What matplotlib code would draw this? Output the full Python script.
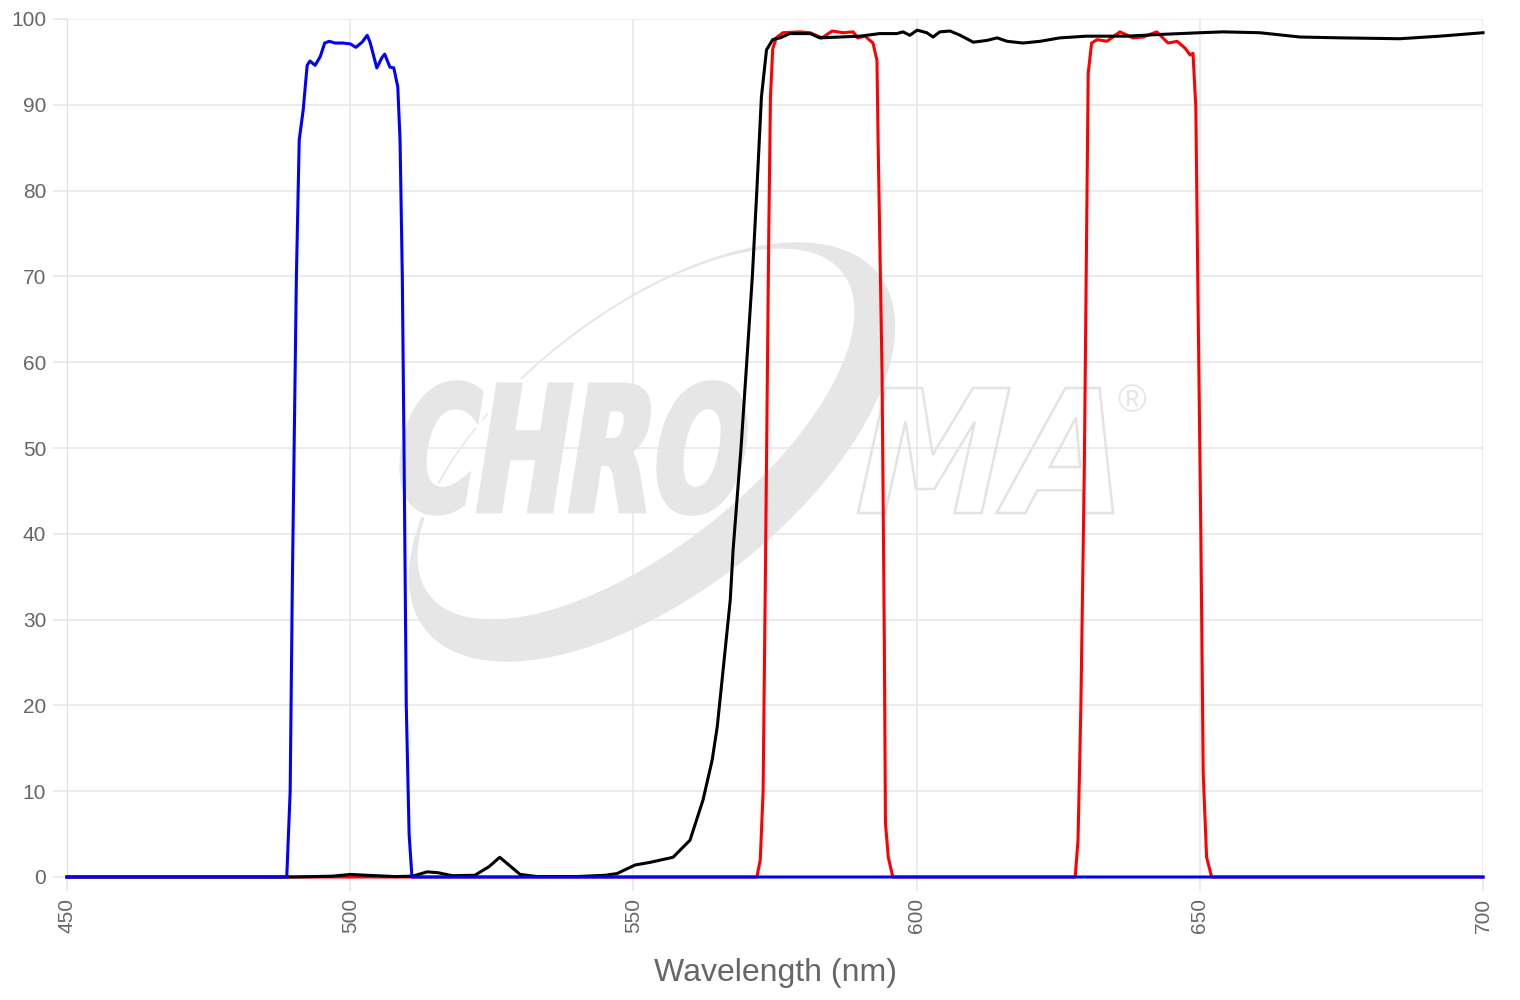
import numpy as np
import matplotlib
matplotlib.use("Agg")
import matplotlib.pyplot as plt
from matplotlib.textpath import TextPath
from matplotlib.patches import PathPatch
from matplotlib.path import Path
from matplotlib.font_manager import FontProperties
from matplotlib.transforms import Affine2D, IdentityTransform

# transmission curves
blue_x = [450, 488.8, 489.4, 489.8, 490.1, 490.5, 491.0, 491.7, 492.4, 492.9,
          493.8, 494.7, 495.5, 496.3, 497.3, 498.7, 500.0, 501.0, 502.1, 503.0,
          503.5, 504.7, 505.6, 506.1, 507.0, 507.7, 508.4, 508.8, 509.2, 509.5,
          509.9, 510.4, 510.9, 700]
blue_y = [0, 0, 10, 35, 50, 70, 85.9, 89.4, 94.6, 95.1,
          94.6, 95.6, 97.2, 97.4, 97.2, 97.2, 97.1, 96.7, 97.3, 98.1,
          97.3, 94.3, 95.5, 95.9, 94.4, 94.3, 92.1, 85.9, 70, 50,
          20, 5, 0, 0]

black_x = [450, 490, 497, 500, 503, 508, 511, 513.6, 515.5, 518,
           522, 524.5, 526.4, 528.2, 530, 533, 540, 545, 547.1, 550.3,
           552.9, 557.0, 560.0, 562.3, 563.9, 564.8, 565.6, 566.5, 567.1, 567.6,
           569.0, 570.0, 571.0, 571.8, 572.6, 573.5, 574.6, 575.9, 577.6, 581.2,
           582.9, 586.5, 590.0, 593.5, 596.5, 597.6, 598.8, 600.1, 601.8, 602.9,
           604.1, 605.9, 607.7, 610.0, 612.4, 614.2, 616.0, 618.8, 621.8, 625.3,
           630, 637.1, 643, 650.0, 654.1, 660.6, 667.7, 675, 685.3, 692.4,
           700]
black_y = [0, 0, 0.1, 0.3, 0.2, 0.05, 0.1, 0.6, 0.5, 0.15,
           0.2, 1.2, 2.3, 1.3, 0.3, 0.05, 0.05, 0.2, 0.4, 1.4,
           1.7, 2.3, 4.3, 9.0, 13.6, 17.5, 22.6, 28.4, 32.3, 38.1,
           50, 59.9, 70, 80.1, 90.9, 96.4, 97.6, 97.8, 98.3, 98.3,
           97.8, 97.9, 98.0, 98.3, 98.3, 98.5, 98.1, 98.7, 98.4, 97.9,
           98.5, 98.6, 98.1, 97.3, 97.5, 97.8, 97.4, 97.2, 97.4, 97.8,
           98.0, 98.0, 98.2, 98.4, 98.5, 98.4, 97.9, 97.8, 97.7, 98.0,
           98.4]

red_x = [450, 571.8, 572.4, 572.9, 573.3, 573.6, 573.9, 574.2, 574.6, 575.2,
         576.4, 579.4, 581.2, 583.3, 585.1, 587.0, 588.8, 589.6, 590.9, 592.3,
         593.0, 593.2, 593.9, 594.3, 594.5, 595.0, 595.8, 628.0, 628.5, 629.0,
         629.6, 630.0, 630.3, 630.9, 631.9, 633.6, 635.9, 638.2, 640.0, 642.4,
         644.4, 646.0, 647.4, 648.3, 648.8, 649.3, 649.7, 650.2, 650.6, 651.2,
         652.1, 700]
red_y = [0, 0, 2, 10, 35, 55, 75, 91, 96.5, 97.8,
         98.4, 98.5, 98.4, 97.8, 98.6, 98.4, 98.5, 97.8, 98.0, 97.2,
         95.2, 85.9, 58.7, 27.6, 6.3, 2.3, 0, 0, 4.3, 19.8,
         47, 74, 93.7, 97.2, 97.6, 97.4, 98.5, 97.8, 97.9, 98.5,
         97.2, 97.4, 96.6, 95.8, 96.0, 89.7, 66.4, 39.3, 12.1, 2.3,
         0, 0]

x_ticks = [450, 500, 550, 600, 650, 700]
y_ticks = [0, 10, 20, 30, 40, 50, 60, 70, 80, 90, 100]

plt.rcParams["font.family"] = ["Liberation Sans", "DejaVu Sans"]

fig = plt.figure(figsize=(15.2, 10), dpi=100)
ax = fig.add_axes([67 / 1520, 123 / 1000, 1416 / 1520, 858 / 1000])
ax.set_facecolor("none")

# watermark, in pixel coordinates (y up)
wm = "#e6e6e6"


def ellipse_pts(cx, cy, a, b, ang, n=200):
    t = np.linspace(0, 2 * np.pi, n)
    c, s = np.cos(np.radians(ang)), np.sin(np.radians(ang))
    return np.column_stack([cx + a * np.cos(t) * c - b * np.sin(t) * s,
                            cy + a * np.cos(t) * s + b * np.sin(t) * c])


outer = ellipse_pts(652, 548, 288, 142, 38)
inner = ellipse_pts(636, 566, 262, 116, 38)[::-1]
verts = np.vstack([outer, inner])
codes = ([Path.MOVETO] + [Path.LINETO] * (len(outer) - 2) + [Path.CLOSEPOLY]) * 2
ring = PathPatch(Path(verts, codes), facecolor=wm, edgecolor="none",
                 transform=IdentityTransform(), zorder=-3)
fig.add_artist(ring)


def logo_path(s, x0, x1, y0, y1):
    tp = TextPath((0, 0), s, size=1,
                  prop=FontProperties(family="DejaVu Sans", weight="bold"))
    p = Affine2D().skew_deg(14, 0).transform_path(tp)
    ext = p.get_extents()
    tr = (Affine2D().translate(-ext.x0, -ext.y0)
          .scale((x1 - x0) / ext.width, (y1 - y0) / ext.height)
          .translate(x0, y0))
    return tr.transform_path(p)


chro = logo_path("CHRO", 402, 745, 1000 - 513, 1000 - 383)
fig.add_artist(PathPatch(chro, facecolor="white", edgecolor="white", lw=9,
                         transform=IdentityTransform(), zorder=-2))
fig.add_artist(PathPatch(chro, facecolor=wm, edgecolor=wm, lw=4,
                         transform=IdentityTransform(), zorder=-1))
ma = logo_path("MA", 858, 1113, 1000 - 513, 1000 - 388)
fig.add_artist(PathPatch(ma, facecolor="white", edgecolor="#e3e3e3", lw=1.8,
                         transform=IdentityTransform(), zorder=-1))
fig.text(1132 / 1520, 1 - 402 / 1000, "®", fontsize=28, color=wm,
         ha="center", va="center", zorder=-1)

ax.plot(red_x, red_y, color="#ff0000", lw=2.2, zorder=2, clip_on=False)
ax.plot(black_x, black_y, color="#000000", lw=2.2, zorder=3, clip_on=False)
ax.plot(blue_x, blue_y, color="#0000ff", lw=2.2, zorder=4, clip_on=False)

ax.set_xlim(450, 700)
ax.set_ylim(0, 100)
ax.set_xticks(x_ticks)
ax.set_yticks(y_ticks)
ax.set_xticklabels([str(v) for v in x_ticks], rotation=90)
ax.grid(True, color="#e5e5e5", lw=1.1)
for line in ax.get_xgridlines() + ax.get_ygridlines():
    line.set_zorder(1)

for side in ["top", "right", "bottom"]:
    ax.spines[side].set_visible(False)
ax.spines["left"].set_color("#d0d0d0")
ax.spines["left"].set_zorder(1)

ax.tick_params(axis="both", length=10, width=1.1, color="#e5e5e5",
               labelcolor="#666666", labelsize=15, pad=5)
ax.set_xlabel("Wavelength (nm)", fontsize=23, color="#666666", labelpad=18)

plt.savefig("out.png", dpi=100)
plt.close()
